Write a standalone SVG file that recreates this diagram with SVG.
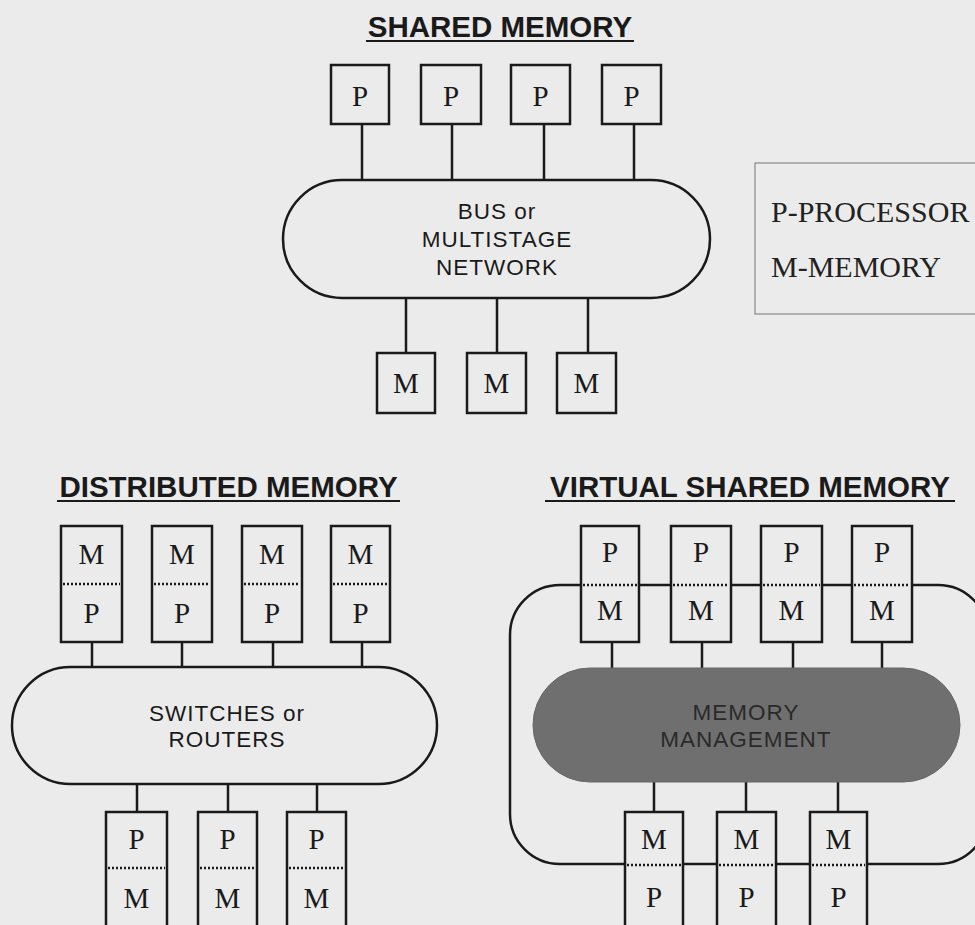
<svg xmlns="http://www.w3.org/2000/svg" width="975" height="925" viewBox="0 0 975 925">
<style>
.bg{fill:#ebebeb}
.box{fill:#ebebeb;stroke:#1a1a1a;stroke-width:2.5}
.net{fill:#ebebeb;stroke:#1a1a1a;stroke-width:2.5}
.dark{fill:#6f6f6f;stroke:#666;stroke-width:1}
.dot{stroke:#1a1a1a;stroke-width:2.5;stroke-dasharray:2 2;fill:none}
.wire{stroke:#1a1a1a;stroke-width:2.5;fill:none}
.ul{stroke:#1a1a1a;stroke-width:2}
.lt{font-family:"Liberation Serif","Times New Roman",serif;font-size:29px;fill:#1a1a1a;text-anchor:middle}
.st{font-family:"Liberation Sans",Arial,sans-serif;font-size:22.5px;letter-spacing:1px;fill:#1a1a1a;text-anchor:middle}
.tt{font-family:"Liberation Sans",Arial,sans-serif;font-size:29.5px;font-weight:bold;fill:#1a1a1a;text-anchor:middle}
.lg{font-family:"Liberation Serif","Times New Roman",serif;font-size:30px;fill:#222}
</style>
<rect class="bg" x="0" y="0" width="975" height="925"/>

<!-- Titles -->
<g id="title-shared">
<text class="tt" x="500" y="37">SHARED MEMORY</text>
<line class="ul" x1="366" y1="41" x2="634" y2="41"/>
</g>
<g id="title-distributed">
<text class="tt" x="228.5" y="497">DISTRIBUTED MEMORY</text>
<line class="ul" x1="57" y1="501" x2="400" y2="501"/>
</g>
<g id="title-virtual">
<text class="tt" x="750" y="497">VIRTUAL SHARED MEMORY</text>
<line class="ul" x1="545" y1="501" x2="955" y2="501"/>
</g>

<!-- Legend -->
<g id="legend">
<rect x="755" y="163" width="240" height="151" fill="none" stroke="#777" stroke-width="1"/>
<text class="lg" x="771" y="222">P-PROCESSOR</text>
<text class="lg" x="771" y="277">M-MEMORY</text>
</g>

<!-- Virtual outer boundary (drawn first) -->
<g id="vsm-boundary">
<rect x="510" y="585" width="478" height="279" rx="50" fill="none" stroke="#1a1a1a" stroke-width="2.5"/>
</g>

<!-- Connectors -->
<g id="connectors">
<line class="wire" x1="362" y1="124" x2="362" y2="180"/>
<line class="wire" x1="452" y1="124" x2="452" y2="180"/>
<line class="wire" x1="544" y1="124" x2="544" y2="180"/>
<line class="wire" x1="634" y1="124" x2="634" y2="180"/>
<line class="wire" x1="406" y1="298" x2="406" y2="353"/>
<line class="wire" x1="497" y1="298" x2="497" y2="353"/>
<line class="wire" x1="588" y1="298" x2="588" y2="353"/>

<line class="wire" x1="92" y1="642" x2="92" y2="667"/>
<line class="wire" x1="182" y1="642" x2="182" y2="667"/>
<line class="wire" x1="273" y1="642" x2="273" y2="667"/>
<line class="wire" x1="362" y1="642" x2="362" y2="667"/>
<line class="wire" x1="137" y1="784" x2="137" y2="812"/>
<line class="wire" x1="228" y1="784" x2="228" y2="812"/>
<line class="wire" x1="317" y1="784" x2="317" y2="812"/>

<line class="wire" x1="612" y1="642" x2="612" y2="668"/>
<line class="wire" x1="702" y1="642" x2="702" y2="668"/>
<line class="wire" x1="793" y1="642" x2="793" y2="668"/>
<line class="wire" x1="882" y1="642" x2="882" y2="668"/>
<line class="wire" x1="654" y1="782" x2="654" y2="812"/>
<line class="wire" x1="746" y1="782" x2="746" y2="812"/>
<line class="wire" x1="838" y1="782" x2="838" y2="812"/>
</g>

<!-- Shared memory -->
<g id="bus">
<rect class="net" x="283" y="180" width="427" height="118" rx="59"/>
<text class="st" x="497" y="219">BUS or</text>
<text class="st" x="497" y="247">MULTISTAGE</text>
<text class="st" x="497" y="275">NETWORK</text>
</g>
<g id="sm-p1"><rect class="box" x="331" y="65" width="58" height="59"/><text class="lt" x="360" y="106">P</text></g>
<g id="sm-p2"><rect class="box" x="421" y="65" width="60" height="59"/><text class="lt" x="451" y="106">P</text></g>
<g id="sm-p3"><rect class="box" x="511" y="65" width="59" height="59"/><text class="lt" x="540.5" y="106">P</text></g>
<g id="sm-p4"><rect class="box" x="602" y="65" width="59" height="59"/><text class="lt" x="631.5" y="106">P</text></g>
<g id="sm-m1"><rect class="box" x="377" y="353" width="58" height="60"/><text class="lt" x="406" y="393">M</text></g>
<g id="sm-m2"><rect class="box" x="467" y="353" width="59" height="60"/><text class="lt" x="496.5" y="393">M</text></g>
<g id="sm-m3"><rect class="box" x="557" y="353" width="59" height="60"/><text class="lt" x="586.5" y="393">M</text></g>

<!-- Distributed memory -->
<g id="switches">
<rect class="net" x="12" y="667" width="425" height="117" rx="58.5"/>
<text class="st" x="227" y="721">SWITCHES or</text>
<text class="st" x="227" y="747">ROUTERS</text>
</g>
<g id="dm-t1"><rect class="box" x="61" y="526" width="61" height="116"/><line class="dot" x1="63" y1="584" x2="120" y2="584"/><text class="lt" x="91.5" y="564">M</text><text class="lt" x="91.5" y="623">P</text></g>
<g id="dm-t2"><rect class="box" x="152" y="526" width="60" height="116"/><line class="dot" x1="154" y1="584" x2="210" y2="584"/><text class="lt" x="182" y="564">M</text><text class="lt" x="182" y="623">P</text></g>
<g id="dm-t3"><rect class="box" x="242" y="526" width="60" height="116"/><line class="dot" x1="244" y1="584" x2="300" y2="584"/><text class="lt" x="272" y="564">M</text><text class="lt" x="272" y="623">P</text></g>
<g id="dm-t4"><rect class="box" x="331" y="526" width="59" height="116"/><line class="dot" x1="333" y1="584" x2="388" y2="584"/><text class="lt" x="360.5" y="564">M</text><text class="lt" x="360.5" y="623">P</text></g>
<g id="dm-b1"><rect class="box" x="106" y="812" width="61" height="125"/><line class="dot" x1="108" y1="868" x2="165" y2="868"/><text class="lt" x="136.5" y="849">P</text><text class="lt" x="136.5" y="908">M</text></g>
<g id="dm-b2"><rect class="box" x="198" y="812" width="59" height="125"/><line class="dot" x1="200" y1="868" x2="255" y2="868"/><text class="lt" x="227.5" y="849">P</text><text class="lt" x="227.5" y="908">M</text></g>
<g id="dm-b3"><rect class="box" x="287" y="812" width="59" height="125"/><line class="dot" x1="289" y1="868" x2="344" y2="868"/><text class="lt" x="316.5" y="849">P</text><text class="lt" x="316.5" y="908">M</text></g>

<!-- Virtual shared memory -->
<g id="memory-management">
<rect class="dark" x="533" y="668" width="427" height="114" rx="57"/>
<text class="st" x="746" y="720" style="fill:#2a2a2a">MEMORY</text>
<text class="st" x="746" y="747" style="fill:#2a2a2a">MANAGEMENT</text>
</g>
<g id="vm-t1"><rect class="box" x="581" y="526" width="58" height="116"/><line class="dot" x1="583" y1="585" x2="637" y2="585"/><text class="lt" x="610" y="562">P</text><text class="lt" x="610" y="620">M</text></g>
<g id="vm-t2"><rect class="box" x="671" y="526" width="60" height="116"/><line class="dot" x1="673" y1="585" x2="729" y2="585"/><text class="lt" x="701" y="562">P</text><text class="lt" x="701" y="620">M</text></g>
<g id="vm-t3"><rect class="box" x="761" y="526" width="61" height="116"/><line class="dot" x1="763" y1="585" x2="820" y2="585"/><text class="lt" x="791.5" y="562">P</text><text class="lt" x="791.5" y="620">M</text></g>
<g id="vm-t4"><rect class="box" x="852" y="526" width="60" height="116"/><line class="dot" x1="854" y1="585" x2="910" y2="585"/><text class="lt" x="882" y="562">P</text><text class="lt" x="882" y="620">M</text></g>
<g id="vm-b1"><rect class="box" x="625" y="812" width="58" height="125"/><line class="dot" x1="627" y1="865" x2="681" y2="865"/><text class="lt" x="654" y="849">M</text><text class="lt" x="654" y="907">P</text></g>
<g id="vm-b2"><rect class="box" x="717" y="812" width="59" height="125"/><line class="dot" x1="719" y1="865" x2="774" y2="865"/><text class="lt" x="746.5" y="849">M</text><text class="lt" x="746.5" y="907">P</text></g>
<g id="vm-b3"><rect class="box" x="810" y="812" width="57" height="125"/><line class="dot" x1="812" y1="865" x2="865" y2="865"/><text class="lt" x="838.5" y="849">M</text><text class="lt" x="838.5" y="907">P</text></g>
</svg>
